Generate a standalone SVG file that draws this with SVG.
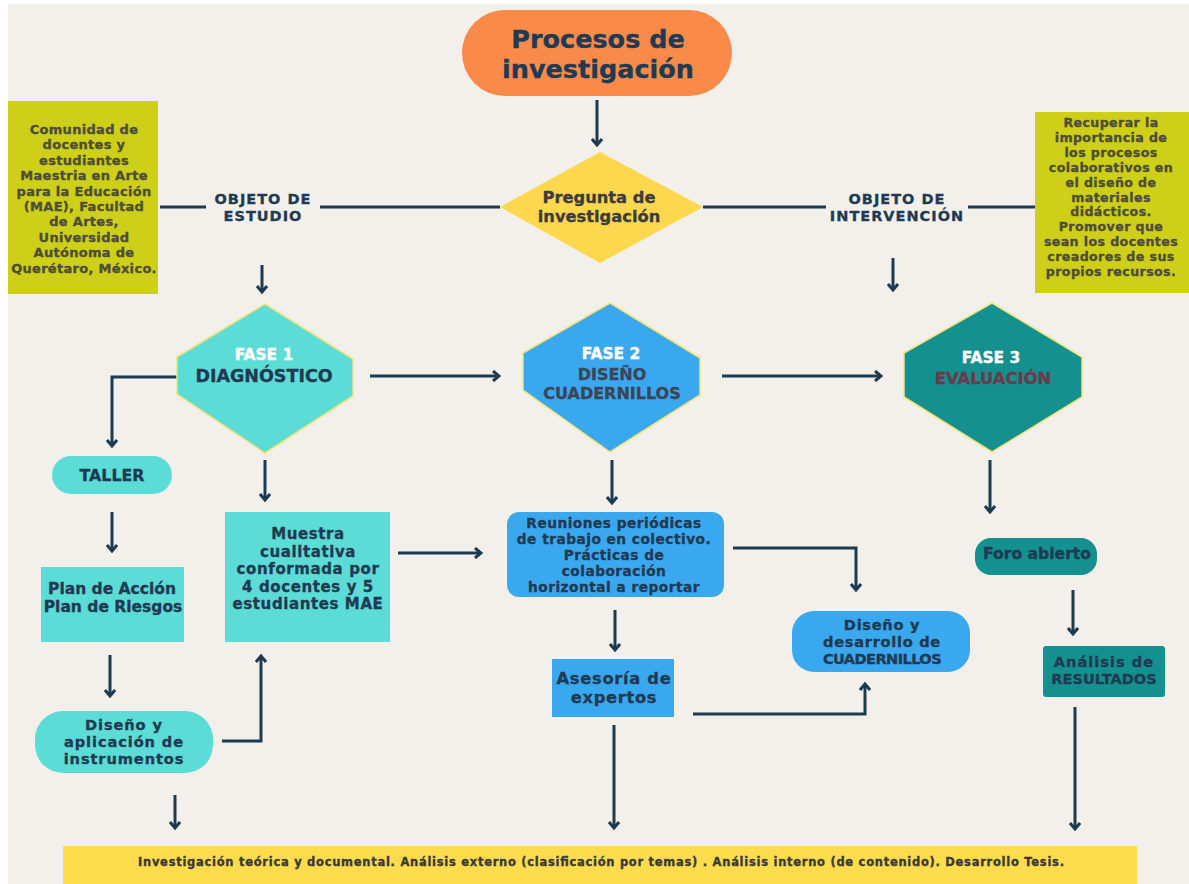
<svg xmlns="http://www.w3.org/2000/svg" width="1189" height="884" viewBox="0 0 1189 884">
  <defs>
    <marker id="headR" viewBox="0 0 10 12" refX="8" refY="6" markerWidth="10" markerHeight="12" markerUnits="userSpaceOnUse" orient="0">
      <polyline points="2,1 8,6 2,11" fill="none" stroke="#1d3a50" stroke-width="3"/>
    </marker>
    <marker id="headU" viewBox="0 0 12 10" refX="6" refY="2" markerWidth="12" markerHeight="10" markerUnits="userSpaceOnUse" orient="0">
      <polyline points="1,8 6,2 11,8" fill="none" stroke="#1d3a50" stroke-width="3"/>
    </marker>
    <marker id="headD" viewBox="0 0 12 10" refX="6" refY="8" markerWidth="12" markerHeight="10" markerUnits="userSpaceOnUse" orient="0">
      <polyline points="1,2 6,8 11,2" fill="none" stroke="#1d3a50" stroke-width="3"/>
    </marker>
  </defs>
  <style>
    text { font-family: "DejaVu Sans", "Noto Sans", sans-serif; font-weight: 700; text-anchor: middle; stroke-width: 0.35px; stroke-linejoin: round; }
    .line { fill: none; stroke: #1d3a50; stroke-width: 3; }
    .down { marker-end: url(#headD); }
    .right { marker-end: url(#headR); }
    .up { marker-end: url(#headU); }
    .navy { fill: #1f3a52; stroke: #1f3a52; }
    .olive { fill: #4e4d38; stroke: #4e4d38; font-size: 13px; letter-spacing: 0.3px; }
    .olive2 { fill: #4e4d38; stroke: #4e4d38; font-size: 12.6px; letter-spacing: 0.4px; }
    .teal { fill: #5cdcd6; }
    .blue { fill: #3aa8ef; }
    .dteal { fill: #14908f; }
    .hex { stroke: #f4e27a; stroke-width: 1.5; }
    .lbl { font-size: 14.5px; letter-spacing: 1px; }
    .fase { fill: #ffffff; stroke: #ffffff; font-size: 15.5px; }
  </style>

  <!-- page -->
  <rect x="0" y="0" width="1189" height="884" fill="#ffffff"/>
  <rect x="8" y="4" width="1181" height="880" fill="#f3f0eb"/>

  <!-- connectors -->
  <g id="connectors">
    <line class="line down" x1="597" y1="100" x2="597" y2="145"/>
    <line class="line" x1="160" y1="207" x2="206" y2="207"/>
    <line class="line" x1="320" y1="207" x2="500" y2="207"/>
    <line class="line" x1="703" y1="207" x2="826" y2="207"/>
    <line class="line" x1="968" y1="207" x2="1036" y2="207"/>
    <line class="line down" x1="262" y1="265" x2="262" y2="292"/>
    <line class="line down" x1="893" y1="258" x2="893" y2="290"/>
    <line class="line right" x1="370" y1="376" x2="499" y2="376"/>
    <line class="line right" x1="722" y1="376" x2="881" y2="376"/>
    <polyline class="line down" points="178,377 112,377 112,446"/>
    <line class="line down" x1="112" y1="512" x2="112" y2="551"/>
    <line class="line down" x1="110" y1="655" x2="110" y2="696"/>
    <polyline class="line up" points="222,741 261,741 261,656"/>
    <line class="line down" x1="265" y1="460" x2="265" y2="500"/>
    <line class="line right" x1="398" y1="553" x2="481" y2="553"/>
    <line class="line down" x1="612" y1="460" x2="612" y2="503"/>
    <polyline class="line down" points="733,548 856,548 856,590"/>
    <line class="line down" x1="615" y1="610" x2="615" y2="650"/>
    <polyline class="line up" points="693,714 865,714 865,684"/>
    <line class="line down" x1="614" y1="725" x2="614" y2="828"/>
    <line class="line down" x1="990" y1="460" x2="990" y2="512"/>
    <line class="line down" x1="1073" y1="590" x2="1073" y2="634"/>
    <line class="line down" x1="1075" y1="707" x2="1075" y2="829"/>
    <line class="line down" x1="175" y1="795" x2="175" y2="828"/>
  </g>

  <!-- title -->
  <g id="title">
    <rect x="462" y="10" width="270" height="86" rx="43" fill="#f98a49"/>
    <text class="navy" x="598" y="48" font-size="25.5" stroke-width="0.8">Procesos de</text>
    <text class="navy" x="598" y="78" font-size="25.5" stroke-width="0.8">investigación</text>
  </g>

  <!-- research question -->
  <g id="pregunta">
    <polygon points="600,152 703,207 600,263 500,207" fill="#fdd84f"/>
    <text x="599" y="203" font-size="16.3" fill="#3c3c3c" stroke="#3c3c3c">Pregunta de</text>
    <text x="599" y="222" font-size="16.3" fill="#3c3c3c" stroke="#3c3c3c">investigación</text>
  </g>

  <!-- side boxes -->
  <g id="comunidad">
    <rect x="8" y="101" width="150" height="193" fill="#cdcf18"/>
    <text class="olive" x="84" y="134">Comunidad de</text>
    <text class="olive" x="84" y="149.4">docentes y</text>
    <text class="olive" x="84" y="164.8">estudiantes</text>
    <text class="olive" x="84" y="180.2">Maestria en Arte</text>
    <text class="olive" x="84" y="195.6">para la Educación</text>
    <text class="olive" x="84" y="211">(MAE), Facultad</text>
    <text class="olive" x="84" y="226.4">de Artes,</text>
    <text class="olive" x="84" y="241.8">Universidad</text>
    <text class="olive" x="84" y="257.2">Autónoma de</text>
    <text class="olive" x="84" y="272.6">Querétaro, México.</text>
  </g>
  <g id="recuperar">
    <rect x="1035" y="112" width="154" height="181" fill="#cdcf18"/>
    <text class="olive2" x="1111" y="127">Recuperar la</text>
    <text class="olive2" x="1111" y="141.9">importancia de</text>
    <text class="olive2" x="1111" y="156.8">los procesos</text>
    <text class="olive2" x="1111" y="171.7">colaborativos en</text>
    <text class="olive2" x="1111" y="186.6">el diseño de</text>
    <text class="olive2" x="1111" y="201.5">materiales</text>
    <text class="olive2" x="1111" y="216.4">didácticos.</text>
    <text class="olive2" x="1111" y="231.3">Promover que</text>
    <text class="olive2" x="1111" y="246.2">sean los docentes</text>
    <text class="olive2" x="1111" y="261.1">creadores de sus</text>
    <text class="olive2" x="1111" y="276">propios recursos.</text>
  </g>

  <g id="objeto-estudio">
    <text class="navy lbl" x="263" y="204">OBJETO DE</text>
    <text class="navy lbl" x="263" y="221">ESTUDIO</text>
  </g>
  <g id="objeto-intervencion">
    <text class="navy lbl" x="897" y="204">OBJETO DE</text>
    <text class="navy lbl" x="897" y="221">INTERVENCIÓN</text>
  </g>

  <!-- phases -->
  <g id="fase1">
    <polygon class="teal hex" points="265,304 353,359 353,396 265,453 177,394 177,357"/>
    <text class="fase" x="264" y="360">FASE 1</text>
    <text class="navy" x="264" y="382" font-size="17.5">DIAGNÓSTICO</text>
  </g>
  <g id="fase2">
    <polygon class="blue hex" points="610,303 700,358 700,395 610,452 523,390 523,353"/>
    <text class="fase" x="611" y="359">FASE 2</text>
    <text x="612" y="380" font-size="16" fill="#3a4658" stroke="#3a4658">DISEÑO</text>
    <text x="612" y="399" font-size="16" fill="#3a4658" stroke="#3a4658">CUADERNILLOS</text>
  </g>
  <g id="fase3">
    <polygon class="dteal hex" points="992,303 1082,357 1082,397 992,452 904,397 904,353"/>
    <text class="fase" x="991" y="363">FASE 3</text>
    <text x="993" y="384" font-size="16.4" fill="#6a3b4a" stroke="#6a3b4a">EVALUACIÓN</text>
  </g>

  <!-- phase 1 branch -->
  <g id="taller">
    <rect class="teal" x="52" y="456" width="120" height="38" rx="19"/>
    <text class="navy" x="112" y="481" font-size="15.8">TALLER</text>
  </g>
  <g id="plan">
    <rect class="teal" x="41" y="567" width="143" height="75"/>
    <text class="navy" x="112" y="594" font-size="15.5">Plan de Acción</text>
    <text class="navy" x="113" y="612" font-size="15.5">Plan de Riesgos</text>
  </g>
  <g id="instrumentos">
    <rect class="teal" x="35" y="711" width="178" height="62" rx="28"/>
    <text class="navy" x="124" y="730" font-size="14.6" letter-spacing="0.9">Diseño y</text>
    <text class="navy" x="124" y="747" font-size="14.6" letter-spacing="0.9">aplicación de</text>
    <text class="navy" x="124" y="764" font-size="14.6" letter-spacing="0.9">instrumentos</text>
  </g>
  <g id="muestra">
    <rect class="teal" x="225" y="512" width="165" height="130"/>
    <text class="navy" x="308" y="539" font-size="15" letter-spacing="0.6">Muestra</text>
    <text class="navy" x="308" y="556.5" font-size="15" letter-spacing="0.6">cualitativa</text>
    <text class="navy" x="308" y="574" font-size="15" letter-spacing="0.6">conformada por</text>
    <text class="navy" x="308" y="591.5" font-size="15" letter-spacing="0.6">4 docentes y 5</text>
    <text class="navy" x="308" y="609" font-size="15" letter-spacing="0.6">estudiantes MAE</text>
  </g>

  <!-- phase 2 branch -->
  <g id="reuniones">
    <rect class="blue" x="507" y="512" width="217" height="85" rx="12"/>
    <text class="navy" x="614" y="528" font-size="13.7" letter-spacing="0.5">Reuniones periódicas</text>
    <text class="navy" x="614" y="544" font-size="13.7" letter-spacing="0.5">de trabajo en colectivo.</text>
    <text class="navy" x="614" y="560" font-size="13.7" letter-spacing="0.5">Prácticas de</text>
    <text class="navy" x="614" y="576" font-size="13.7" letter-spacing="0.5">colaboración</text>
    <text class="navy" x="614" y="592" font-size="13.7" letter-spacing="0.5">horizontal a reportar</text>
  </g>
  <g id="asesoria">
    <rect class="blue" x="552" y="659" width="122" height="58"/>
    <text class="navy" x="614" y="684" font-size="16.3" letter-spacing="0.7">Asesoría de</text>
    <text class="navy" x="614" y="703" font-size="16.3" letter-spacing="0.7">expertos</text>
  </g>
  <g id="desarrollo">
    <rect class="blue" x="792" y="611" width="178" height="61" rx="22"/>
    <text class="navy" x="882" y="630" font-size="14.6" letter-spacing="0.7">Diseño y</text>
    <text class="navy" x="882" y="647" font-size="14.6" letter-spacing="0.7">desarrollo de</text>
    <text class="navy" x="882" y="664" font-size="14.6" letter-spacing="-0.6">CUADERNILLOS</text>
  </g>

  <!-- phase 3 branch -->
  <g id="foro">
    <rect class="dteal" x="975" y="538" width="122" height="37" rx="16"/>
    <text class="navy" x="1037" y="559" font-size="15.6">Foro abierto</text>
  </g>
  <g id="analisis">
    <rect class="dteal" x="1043" y="646" width="122" height="51" rx="3"/>
    <text class="navy" x="1104" y="667" font-size="14.6" letter-spacing="1">Análisis de</text>
    <text class="navy" x="1104" y="684" font-size="14.6">RESULTADOS</text>
  </g>

  <!-- bottom band -->
  <g id="tesis">
    <rect x="63" y="846" width="1074" height="38" fill="#fddc4e"/>
    <text x="601" y="866" font-size="11.5" textLength="926" lengthAdjust="spacing" fill="#3a3a32" stroke="#3a3a32" stroke-width="0.25">Investigación teórica y documental. Análisis externo (clasificación por temas) . Análisis interno (de contenido). Desarrollo Tesis.</text>
  </g>
</svg>
